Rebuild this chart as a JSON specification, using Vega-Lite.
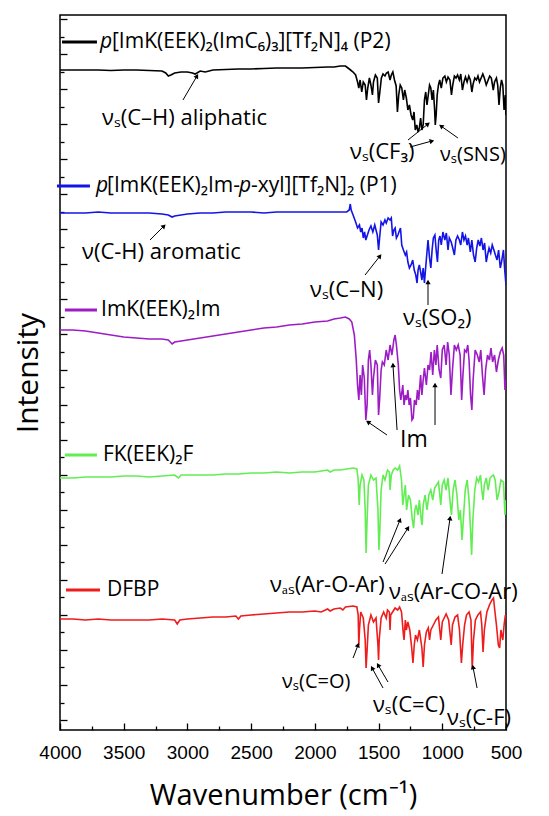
{
"$schema": "https://vega.github.io/schema/vega-lite/v6.json",
"width": 446, "height": 715,
"autosize": "none",
"padding": {"left": 60, "top": 15, "right": 43, "bottom": 86},
"background": "white",
"config": {"view": {"stroke": "black", "strokeWidth": 1.5}, "font": "Open Sans"},
"datasets": {
"spec": [
{"s":"P2","x":4000,"y":660},{"s":"P2","x":3900,"y":660},{"s":"P2","x":3800,"y":660},{"s":"P2","x":3700,"y":660},{"s":"P2","x":3600,"y":659.5},{"s":"P2","x":3500,"y":660},{"s":"P2","x":3400,"y":660},{"s":"P2","x":3300,"y":659.5},{"s":"P2","x":3200,"y":659},{"s":"P2","x":3170,"y":657},{"s":"P2","x":3150,"y":654},{"s":"P2","x":3130,"y":655},{"s":"P2","x":3100,"y":657},{"s":"P2","x":3050,"y":658},{"s":"P2","x":3000,"y":658},{"s":"P2","x":2960,"y":657},{"s":"P2","x":2940,"y":656},{"s":"P2","x":2925,"y":657},{"s":"P2","x":2900,"y":659},{"s":"P2","x":2860,"y":658},{"s":"P2","x":2800,"y":660},{"s":"P2","x":2700,"y":660.5},{"s":"P2","x":2600,"y":661},{"s":"P2","x":2500,"y":661},{"s":"P2","x":2400,"y":661.5},{"s":"P2","x":2300,"y":662},{"s":"P2","x":2200,"y":662},{"s":"P2","x":2100,"y":662},{"s":"P2","x":2000,"y":662.5},{"s":"P2","x":1900,"y":663},{"s":"P2","x":1850,"y":663},{"s":"P2","x":1800,"y":664},{"s":"P2","x":1760,"y":664},{"s":"P2","x":1740,"y":662},{"s":"P2","x":1720,"y":660},
{"s":"P2","x":1700,"y":658},{"s":"P2","x":1680,"y":655},{"s":"P2","x":1665,"y":648},{"s":"P2","x":1655,"y":642},{"s":"P2","x":1645,"y":650},{"s":"P2","x":1632,"y":638},{"s":"P2","x":1620,"y":648},{"s":"P2","x":1605,"y":645},{"s":"P2","x":1595,"y":630},{"s":"P2","x":1585,"y":642},{"s":"P2","x":1572,"y":652},{"s":"P2","x":1560,"y":645},{"s":"P2","x":1548,"y":635},{"s":"P2","x":1540,"y":648},{"s":"P2","x":1525,"y":655},{"s":"P2","x":1510,"y":652},{"s":"P2","x":1500,"y":627},{"s":"P2","x":1490,"y":638},{"s":"P2","x":1478,"y":652},{"s":"P2","x":1465,"y":656},{"s":"P2","x":1450,"y":654},{"s":"P2","x":1438,"y":657},{"s":"P2","x":1425,"y":658},{"s":"P2","x":1410,"y":650},{"s":"P2","x":1400,"y":655},{"s":"P2","x":1388,"y":658},{"s":"P2","x":1375,"y":650},{"s":"P2","x":1362,"y":644},{"s":"P2","x":1352,"y":618},{"s":"P2","x":1342,"y":635},{"s":"P2","x":1330,"y":645},{"s":"P2","x":1318,"y":642},{"s":"P2","x":1305,"y":630},{"s":"P2","x":1295,"y":640},{"s":"P2","x":1282,"y":632},{"s":"P2","x":1270,"y":620},{"s":"P2","x":1258,"y":625},{"s":"P2","x":1245,"y":615},{"s":"P2","x":1232,"y":610},{"s":"P2","x":1222,"y":618},{"s":"P2","x":1212,"y":600},{"s":"P2","x":1200,"y":605},{"s":"P2","x":1190,"y":598},{"s":"P2","x":1180,"y":602},{"s":"P2","x":1170,"y":612},{"s":"P2","x":1160,"y":600},{"s":"P2","x":1150,"y":605},{"s":"P2","x":1140,"y":630},{"s":"P2","x":1130,"y":638},{"s":"P2","x":1120,"y":625},{"s":"P2","x":1110,"y":635},{"s":"P2","x":1100,"y":645},{"s":"P2","x":1090,"y":642},{"s":"P2","x":1080,"y":630},{"s":"P2","x":1070,"y":640},{"s":"P2","x":1060,"y":620},{"s":"P2","x":1055,"y":605},{"s":"P2","x":1048,"y":615},{"s":"P2","x":1040,"y":635},{"s":"P2","x":1030,"y":645},{"s":"P2","x":1020,"y":650},{"s":"P2","x":1008,"y":642},{"s":"P2","x":995,"y":652},{"s":"P2","x":980,"y":654},{"s":"P2","x":968,"y":648},{"s":"P2","x":955,"y":653},{"s":"P2","x":940,"y":650},{"s":"P2","x":928,"y":635},{"s":"P2","x":918,"y":645},{"s":"P2","x":905,"y":654},{"s":"P2","x":892,"y":652},{"s":"P2","x":880,"y":655},{"s":"P2","x":866,"y":650},{"s":"P2","x":855,"y":656},{"s":"P2","x":842,"y":640},{"s":"P2","x":830,"y":648},{"s":"P2","x":818,"y":653},{"s":"P2","x":805,"y":648},{"s":"P2","x":792,"y":654},{"s":"P2","x":780,"y":650},{"s":"P2","x":768,"y":638},{"s":"P2","x":758,"y":646},{"s":"P2","x":745,"y":652},{"s":"P2","x":732,"y":650},{"s":"P2","x":720,"y":654},{"s":"P2","x":708,"y":648},{"s":"P2","x":695,"y":652},{"s":"P2","x":682,"y":656},{"s":"P2","x":670,"y":652},{"s":"P2","x":655,"y":645},{"s":"P2","x":640,"y":650},{"s":"P2","x":628,"y":654},{"s":"P2","x":615,"y":652},{"s":"P2","x":600,"y":640},{"s":"P2","x":590,"y":648},{"s":"P2","x":575,"y":652},{"s":"P2","x":565,"y":645},{"s":"P2","x":555,"y":625},{"s":"P2","x":545,"y":642},{"s":"P2","x":535,"y":650},{"s":"P2","x":525,"y":645},{"s":"P2","x":515,"y":620},{"s":"P2","x":505,"y":635},{"s":"P2","x":500,"y":615},

{"s":"P1","x":4000,"y":517},{"s":"P1","x":3900,"y":517},{"s":"P1","x":3800,"y":517},{"s":"P1","x":3700,"y":518},{"s":"P1","x":3600,"y":517},{"s":"P1","x":3500,"y":517},{"s":"P1","x":3400,"y":517},{"s":"P1","x":3300,"y":517},{"s":"P1","x":3200,"y":516},{"s":"P1","x":3150,"y":515},{"s":"P1","x":3120,"y":513},{"s":"P1","x":3100,"y":514},{"s":"P1","x":3050,"y":515},{"s":"P1","x":3000,"y":516},{"s":"P1","x":2900,"y":517},{"s":"P1","x":2800,"y":517},{"s":"P1","x":2700,"y":518},{"s":"P1","x":2600,"y":518},{"s":"P1","x":2500,"y":518},{"s":"P1","x":2400,"y":517},{"s":"P1","x":2300,"y":518},{"s":"P1","x":2200,"y":518},{"s":"P1","x":2100,"y":518},{"s":"P1","x":2000,"y":518},{"s":"P1","x":1900,"y":518},{"s":"P1","x":1800,"y":518},{"s":"P1","x":1750,"y":518},{"s":"P1","x":1730,"y":520},{"s":"P1","x":1722,"y":526},{"s":"P1","x":1715,"y":520},{"s":"P1","x":1700,"y":515},{"s":"P1","x":1680,"y":508},{"s":"P1","x":1665,"y":502},{"s":"P1","x":1650,"y":505},{"s":"P1","x":1640,"y":498},{"s":"P1","x":1630,"y":502},{"s":"P1","x":1620,"y":492},{"s":"P1","x":1610,"y":498},{"s":"P1","x":1600,"y":490},{"s":"P1","x":1590,"y":494},{"s":"P1","x":1575,"y":500},{"s":"P1","x":1560,"y":504},{"s":"P1","x":1545,"y":498},{"s":"P1","x":1530,"y":505},{"s":"P1","x":1520,"y":500},{"s":"P1","x":1510,"y":495},{"s":"P1","x":1500,"y":480},{"s":"P1","x":1492,"y":492},{"s":"P1","x":1480,"y":508},{"s":"P1","x":1465,"y":505},{"s":"P1","x":1450,"y":510},{"s":"P1","x":1440,"y":507},{"s":"P1","x":1425,"y":512},{"s":"P1","x":1410,"y":510},{"s":"P1","x":1400,"y":512},{"s":"P1","x":1390,"y":494},{"s":"P1","x":1380,"y":500},{"s":"P1","x":1370,"y":502},{"s":"P1","x":1360,"y":492},{"s":"P1","x":1348,"y":495},{"s":"P1","x":1340,"y":498},{"s":"P1","x":1328,"y":502},{"s":"P1","x":1318,"y":485},{"s":"P1","x":1305,"y":480},{"s":"P1","x":1290,"y":475},{"s":"P1","x":1280,"y":478},{"s":"P1","x":1270,"y":468},{"s":"P1","x":1258,"y":462},{"s":"P1","x":1245,"y":465},{"s":"P1","x":1232,"y":470},{"s":"P1","x":1220,"y":460},{"s":"P1","x":1208,"y":455},{"s":"P1","x":1198,"y":447},{"s":"P1","x":1190,"y":460},{"s":"P1","x":1180,"y":465},{"s":"P1","x":1170,"y":458},{"s":"P1","x":1160,"y":450},{"s":"P1","x":1150,"y":462},{"s":"P1","x":1140,"y":447},{"s":"P1","x":1132,"y":460},{"s":"P1","x":1122,"y":475},{"s":"P1","x":1112,"y":490},{"s":"P1","x":1100,"y":472},{"s":"P1","x":1090,"y":462},{"s":"P1","x":1080,"y":480},{"s":"P1","x":1070,"y":492},{"s":"P1","x":1058,"y":495},{"s":"P1","x":1048,"y":480},{"s":"P1","x":1038,"y":468},{"s":"P1","x":1028,"y":490},{"s":"P1","x":1018,"y":494},{"s":"P1","x":1008,"y":485},{"s":"P1","x":995,"y":498},{"s":"P1","x":980,"y":490},{"s":"P1","x":968,"y":497},{"s":"P1","x":955,"y":480},{"s":"P1","x":945,"y":492},{"s":"P1","x":930,"y":488},{"s":"P1","x":918,"y":482},{"s":"P1","x":905,"y":475},{"s":"P1","x":893,"y":490},{"s":"P1","x":880,"y":494},{"s":"P1","x":866,"y":490},{"s":"P1","x":855,"y":485},{"s":"P1","x":842,"y":498},{"s":"P1","x":830,"y":490},{"s":"P1","x":818,"y":494},{"s":"P1","x":805,"y":485},{"s":"P1","x":795,"y":492},{"s":"P1","x":780,"y":478},{"s":"P1","x":768,"y":490},{"s":"P1","x":755,"y":475},{"s":"P1","x":742,"y":468},{"s":"P1","x":730,"y":482},{"s":"P1","x":718,"y":490},{"s":"P1","x":705,"y":484},{"s":"P1","x":693,"y":492},{"s":"P1","x":680,"y":480},{"s":"P1","x":668,"y":487},{"s":"P1","x":655,"y":468},{"s":"P1","x":645,"y":475},{"s":"P1","x":633,"y":482},{"s":"P1","x":620,"y":477},{"s":"P1","x":608,"y":485},{"s":"P1","x":595,"y":480},{"s":"P1","x":583,"y":475},{"s":"P1","x":570,"y":470},{"s":"P1","x":558,"y":480},{"s":"P1","x":545,"y":462},{"s":"P1","x":535,"y":468},{"s":"P1","x":520,"y":480},{"s":"P1","x":510,"y":460},{"s":"P1","x":500,"y":445},

{"s":"Im","x":4000,"y":400},{"s":"Im","x":3900,"y":400},{"s":"Im","x":3800,"y":399},{"s":"Im","x":3700,"y":397},{"s":"Im","x":3600,"y":395},{"s":"Im","x":3500,"y":393},{"s":"Im","x":3400,"y":392},{"s":"Im","x":3300,"y":391},{"s":"Im","x":3200,"y":391},{"s":"Im","x":3150,"y":390},{"s":"Im","x":3120,"y":386},{"s":"Im","x":3100,"y":388},{"s":"Im","x":3050,"y":389},{"s":"Im","x":3000,"y":390},{"s":"Im","x":2900,"y":392},{"s":"Im","x":2800,"y":394},{"s":"Im","x":2700,"y":396},{"s":"Im","x":2600,"y":398},{"s":"Im","x":2500,"y":400},{"s":"Im","x":2400,"y":402},{"s":"Im","x":2300,"y":403},{"s":"Im","x":2200,"y":405},{"s":"Im","x":2100,"y":406},{"s":"Im","x":2000,"y":408},{"s":"Im","x":1900,"y":409},{"s":"Im","x":1850,"y":411},{"s":"Im","x":1800,"y":412},{"s":"Im","x":1760,"y":413},{"s":"Im","x":1730,"y":411},{"s":"Im","x":1710,"y":408},{"s":"Im","x":1690,"y":395},{"s":"Im","x":1675,"y":370},
{"s":"Im","x":1665,"y":345},{"s":"Im","x":1655,"y":330},{"s":"Im","x":1645,"y":355},{"s":"Im","x":1635,"y":335},{"s":"Im","x":1625,"y":365},{"s":"Im","x":1612,"y":352},{"s":"Im","x":1600,"y":310},{"s":"Im","x":1590,"y":325},{"s":"Im","x":1580,"y":370},{"s":"Im","x":1570,"y":380},{"s":"Im","x":1560,"y":365},{"s":"Im","x":1548,"y":335},{"s":"Im","x":1540,"y":352},{"s":"Im","x":1525,"y":370},{"s":"Im","x":1510,"y":365},{"s":"Im","x":1500,"y":315},{"s":"Im","x":1492,"y":330},{"s":"Im","x":1480,"y":360},{"s":"Im","x":1470,"y":368},{"s":"Im","x":1455,"y":365},{"s":"Im","x":1440,"y":380},{"s":"Im","x":1425,"y":370},{"s":"Im","x":1410,"y":385},{"s":"Im","x":1395,"y":375},{"s":"Im","x":1380,"y":390},{"s":"Im","x":1370,"y":395},{"s":"Im","x":1360,"y":385},{"s":"Im","x":1345,"y":365},{"s":"Im","x":1335,"y":340},{"s":"Im","x":1325,"y":330},{"s":"Im","x":1310,"y":345},{"s":"Im","x":1300,"y":325},{"s":"Im","x":1290,"y":335},{"s":"Im","x":1280,"y":330},{"s":"Im","x":1270,"y":340},{"s":"Im","x":1260,"y":325},{"s":"Im","x":1250,"y":332},{"s":"Im","x":1238,"y":310},{"s":"Im","x":1228,"y":312},{"s":"Im","x":1218,"y":330},{"s":"Im","x":1205,"y":325},{"s":"Im","x":1195,"y":340},{"s":"Im","x":1185,"y":330},{"s":"Im","x":1170,"y":355},{"s":"Im","x":1160,"y":335},{"s":"Im","x":1150,"y":350},{"s":"Im","x":1140,"y":362},{"s":"Im","x":1125,"y":345},{"s":"Im","x":1112,"y":365},{"s":"Im","x":1100,"y":360},{"s":"Im","x":1088,"y":378},{"s":"Im","x":1075,"y":355},{"s":"Im","x":1062,"y":380},{"s":"Im","x":1050,"y":365},{"s":"Im","x":1040,"y":385},{"s":"Im","x":1025,"y":360},{"s":"Im","x":1012,"y":352},{"s":"Im","x":1000,"y":380},{"s":"Im","x":985,"y":385},{"s":"Im","x":970,"y":365},{"s":"Im","x":958,"y":388},{"s":"Im","x":945,"y":375},{"s":"Im","x":932,"y":335},{"s":"Im","x":920,"y":360},{"s":"Im","x":905,"y":385},{"s":"Im","x":890,"y":380},{"s":"Im","x":875,"y":385},{"s":"Im","x":860,"y":375},{"s":"Im","x":848,"y":330},{"s":"Im","x":838,"y":355},{"s":"Im","x":825,"y":380},{"s":"Im","x":812,"y":378},{"s":"Im","x":800,"y":385},{"s":"Im","x":790,"y":370},{"s":"Im","x":778,"y":335},{"s":"Im","x":768,"y":320},{"s":"Im","x":758,"y":350},{"s":"Im","x":742,"y":380},{"s":"Im","x":725,"y":375},{"s":"Im","x":710,"y":368},{"s":"Im","x":698,"y":380},{"s":"Im","x":685,"y":355},{"s":"Im","x":672,"y":335},{"s":"Im","x":660,"y":360},{"s":"Im","x":645,"y":375},{"s":"Im","x":630,"y":370},{"s":"Im","x":618,"y":382},{"s":"Im","x":605,"y":368},{"s":"Im","x":590,"y":375},{"s":"Im","x":575,"y":358},{"s":"Im","x":560,"y":370},{"s":"Im","x":545,"y":378},{"s":"Im","x":530,"y":382},{"s":"Im","x":518,"y":375},{"s":"Im","x":508,"y":340},{"s":"Im","x":500,"y":350},

{"s":"F","x":4000,"y":252},{"s":"F","x":3900,"y":252},{"s":"F","x":3800,"y":253},{"s":"F","x":3700,"y":253},{"s":"F","x":3600,"y":253},{"s":"F","x":3500,"y":254},{"s":"F","x":3400,"y":254},{"s":"F","x":3300,"y":253},{"s":"F","x":3200,"y":254},{"s":"F","x":3100,"y":255},{"s":"F","x":3070,"y":252},{"s":"F","x":3050,"y":255},{"s":"F","x":2900,"y":255},{"s":"F","x":2800,"y":255},{"s":"F","x":2700,"y":256},{"s":"F","x":2600,"y":256},{"s":"F","x":2500,"y":257},{"s":"F","x":2400,"y":257},{"s":"F","x":2300,"y":258},{"s":"F","x":2200,"y":257},{"s":"F","x":2100,"y":258},{"s":"F","x":2000,"y":258},{"s":"F","x":1950,"y":259},{"s":"F","x":1900,"y":260},{"s":"F","x":1880,"y":258},{"s":"F","x":1850,"y":260},{"s":"F","x":1800,"y":260},{"s":"F","x":1750,"y":261},{"s":"F","x":1700,"y":262},{"s":"F","x":1670,"y":261},
{"s":"F","x":1660,"y":250},{"s":"F","x":1652,"y":225},{"s":"F","x":1645,"y":245},{"s":"F","x":1630,"y":255},{"s":"F","x":1615,"y":250},{"s":"F","x":1605,"y":220},{"s":"F","x":1598,"y":177},{"s":"F","x":1590,"y":210},{"s":"F","x":1580,"y":245},{"s":"F","x":1560,"y":255},{"s":"F","x":1540,"y":250},{"s":"F","x":1520,"y":252},{"s":"F","x":1505,"y":220},{"s":"F","x":1497,"y":180},{"s":"F","x":1490,"y":200},{"s":"F","x":1480,"y":240},{"s":"F","x":1465,"y":255},{"s":"F","x":1450,"y":250},{"s":"F","x":1430,"y":260},{"s":"F","x":1415,"y":258},{"s":"F","x":1410,"y":240},{"s":"F","x":1400,"y":255},{"s":"F","x":1385,"y":260},{"s":"F","x":1370,"y":262},{"s":"F","x":1350,"y":260},{"s":"F","x":1335,"y":264},{"s":"F","x":1320,"y":250},{"s":"F","x":1310,"y":225},{"s":"F","x":1300,"y":235},{"s":"F","x":1290,"y":245},{"s":"F","x":1280,"y":220},{"s":"F","x":1265,"y":235},{"s":"F","x":1250,"y":230},{"s":"F","x":1235,"y":210},{"s":"F","x":1225,"y":202},{"s":"F","x":1215,"y":220},{"s":"F","x":1205,"y":225},{"s":"F","x":1190,"y":215},{"s":"F","x":1180,"y":230},{"s":"F","x":1165,"y":210},{"s":"F","x":1158,"y":205},{"s":"F","x":1150,"y":225},{"s":"F","x":1135,"y":235},{"s":"F","x":1120,"y":220},{"s":"F","x":1105,"y":235},{"s":"F","x":1090,"y":240},{"s":"F","x":1075,"y":230},{"s":"F","x":1060,"y":242},{"s":"F","x":1045,"y":245},{"s":"F","x":1030,"y":248},{"s":"F","x":1012,"y":225},{"s":"F","x":1000,"y":245},{"s":"F","x":985,"y":250},{"s":"F","x":970,"y":240},{"s":"F","x":955,"y":252},{"s":"F","x":940,"y":230},{"s":"F","x":928,"y":215},{"s":"F","x":915,"y":240},{"s":"F","x":900,"y":250},{"s":"F","x":885,"y":235},{"s":"F","x":870,"y":210},{"s":"F","x":858,"y":220},{"s":"F","x":845,"y":190},{"s":"F","x":835,"y":210},{"s":"F","x":820,"y":240},{"s":"F","x":805,"y":250},{"s":"F","x":790,"y":230},{"s":"F","x":780,"y":205},{"s":"F","x":770,"y":175},{"s":"F","x":760,"y":210},{"s":"F","x":745,"y":240},{"s":"F","x":730,"y":252},{"s":"F","x":715,"y":248},{"s":"F","x":700,"y":255},{"s":"F","x":690,"y":240},{"s":"F","x":680,"y":230},{"s":"F","x":670,"y":245},{"s":"F","x":655,"y":252},{"s":"F","x":640,"y":240},{"s":"F","x":625,"y":252},{"s":"F","x":610,"y":254},{"s":"F","x":598,"y":255},{"s":"F","x":585,"y":250},{"s":"F","x":570,"y":230},{"s":"F","x":555,"y":238},{"s":"F","x":540,"y":250},{"s":"F","x":520,"y":248},{"s":"F","x":508,"y":215},{"s":"F","x":500,"y":230},

{"s":"D","x":4000,"y":111},{"s":"D","x":3900,"y":111},{"s":"D","x":3800,"y":110},{"s":"D","x":3700,"y":111},{"s":"D","x":3600,"y":110},{"s":"D","x":3500,"y":110},{"s":"D","x":3400,"y":110},{"s":"D","x":3300,"y":110},{"s":"D","x":3200,"y":111},{"s":"D","x":3100,"y":110},{"s":"D","x":3080,"y":106},{"s":"D","x":3060,"y":110},{"s":"D","x":3000,"y":111},{"s":"D","x":2900,"y":112},{"s":"D","x":2800,"y":113},{"s":"D","x":2700,"y":113},{"s":"D","x":2620,"y":114},{"s":"D","x":2600,"y":111},{"s":"D","x":2580,"y":114},{"s":"D","x":2500,"y":115},{"s":"D","x":2400,"y":116},{"s":"D","x":2300,"y":117},{"s":"D","x":2200,"y":118},{"s":"D","x":2100,"y":118},{"s":"D","x":2000,"y":119},{"s":"D","x":1950,"y":118},{"s":"D","x":1900,"y":121},{"s":"D","x":1880,"y":119},{"s":"D","x":1850,"y":121},{"s":"D","x":1800,"y":122},{"s":"D","x":1780,"y":120},{"s":"D","x":1760,"y":123},{"s":"D","x":1700,"y":124},{"s":"D","x":1670,"y":123},
{"s":"D","x":1660,"y":115},{"s":"D","x":1655,"y":85},{"s":"D","x":1650,"y":100},{"s":"D","x":1640,"y":118},{"s":"D","x":1620,"y":112},{"s":"D","x":1605,"y":90},{"s":"D","x":1598,"y":62},{"s":"D","x":1590,"y":80},{"s":"D","x":1580,"y":105},{"s":"D","x":1560,"y":115},{"s":"D","x":1540,"y":108},{"s":"D","x":1520,"y":112},{"s":"D","x":1505,"y":85},{"s":"D","x":1500,"y":70},{"s":"D","x":1495,"y":90},{"s":"D","x":1480,"y":112},{"s":"D","x":1460,"y":118},{"s":"D","x":1440,"y":112},{"s":"D","x":1430,"y":120},{"s":"D","x":1415,"y":118},{"s":"D","x":1410,"y":100},{"s":"D","x":1405,"y":115},{"s":"D","x":1390,"y":118},{"s":"D","x":1370,"y":122},{"s":"D","x":1350,"y":120},{"s":"D","x":1335,"y":123},{"s":"D","x":1320,"y":118},{"s":"D","x":1305,"y":95},{"s":"D","x":1300,"y":90},{"s":"D","x":1290,"y":110},{"s":"D","x":1282,"y":100},{"s":"D","x":1270,"y":108},{"s":"D","x":1255,"y":100},{"s":"D","x":1240,"y":82},{"s":"D","x":1230,"y":67},{"s":"D","x":1220,"y":85},{"s":"D","x":1210,"y":95},{"s":"D","x":1195,"y":90},{"s":"D","x":1180,"y":100},{"s":"D","x":1160,"y":82},{"s":"D","x":1150,"y":63},{"s":"D","x":1140,"y":85},{"s":"D","x":1125,"y":98},{"s":"D","x":1110,"y":102},{"s":"D","x":1100,"y":90},{"s":"D","x":1090,"y":100},{"s":"D","x":1070,"y":105},{"s":"D","x":1050,"y":110},{"s":"D","x":1030,"y":113},{"s":"D","x":1012,"y":90},{"s":"D","x":1000,"y":108},{"s":"D","x":985,"y":112},{"s":"D","x":970,"y":116},{"s":"D","x":950,"y":110},{"s":"D","x":930,"y":85},{"s":"D","x":920,"y":105},{"s":"D","x":900,"y":113},{"s":"D","x":880,"y":115},{"s":"D","x":865,"y":100},{"s":"D","x":850,"y":67},{"s":"D","x":840,"y":85},{"s":"D","x":825,"y":105},{"s":"D","x":810,"y":115},{"s":"D","x":790,"y":118},{"s":"D","x":775,"y":110},{"s":"D","x":765,"y":62},{"s":"D","x":755,"y":90},{"s":"D","x":740,"y":110},{"s":"D","x":720,"y":115},{"s":"D","x":700,"y":118},{"s":"D","x":690,"y":105},{"s":"D","x":680,"y":78},{"s":"D","x":670,"y":100},{"s":"D","x":650,"y":118},{"s":"D","x":630,"y":125},{"s":"D","x":610,"y":130},{"s":"D","x":598,"y":132},{"s":"D","x":590,"y":122},{"s":"D","x":575,"y":105},{"s":"D","x":560,"y":85},{"s":"D","x":550,"y":82},{"s":"D","x":540,"y":100},{"s":"D","x":525,"y":90},{"s":"D","x":515,"y":105},{"s":"D","x":505,"y":115},{"s":"D","x":500,"y":112}
],
"leg": [
{"s":"P2","x1":3984,"x2":3710,"y":688},
{"s":"P1","x1":4024,"x2":3765,"y":544},
{"s":"Im","x1":3961,"x2":3710,"y":420},
{"s":"F","x1":3961,"x2":3710,"y":275},
{"s":"D","x1":3953,"x2":3686,"y":140}
],
"ltxt": [
{"t":"[ImK(EEK)₂(ImC₆)₃][Tf₂N]₄ (P2)","x":3592,"y":688},
{"t":"[ImK(EEK)₂Im-","x":3631,"y":544},
{"t":"-xyl][Tf₂N]₂ (P1)","x":2501,"y":544},
{"t":"ImK(EEK)₂Im","x":3678,"y":420},
{"t":"FK(EEK)₂F","x":3663,"y":275},
{"t":"DFBP","x":3631,"y":140}
],
"ltxti": [
{"t":"p","x":3686,"y":688},
{"t":"p","x":3717,"y":544},
{"t":"p","x":2595,"y":544}
],
"annA": [
{"t":"νₛ(SNS)","x":1018,"y":575},
{"t":"νₛ(C=O)","x":2258,"y":48}
],
"annB": [
{"t":"νₛ(C–H) aliphatic","x":3670,"y":612},
{"t":"νₛ(CF₃)","x":1724,"y":578},
{"t":"ν(C-H) aromatic","x":3827,"y":478},
{"t":"νₛ(C–N)","x":2038,"y":440},
{"t":"νₛ(SO₂)","x":1308,"y":412},
{"t":"νₐₛ(Ar-O-Ar)","x":2352,"y":145},
{"t":"νₐₛ(Ar-CO-Ar)","x":1418,"y":138},
{"t":"νₛ(C=C)","x":1544,"y":25},
{"t":"νₛ(C-F)","x":963,"y":12}
],
"im": [{"t":"Im","x":1332,"y":290}],
"arr": [
{"x1":3035,"y1":630,"x2":2925,"y2":654},
{"x1":1269,"y1":590,"x2":1112,"y2":606},
{"x1":1253,"y1":583,"x2":1081,"y2":589},
{"x1":877,"y1":592,"x2":1010,"y2":604},
{"x1":3294,"y1":490,"x2":3184,"y2":504},
{"x1":1606,"y1":455,"x2":1489,"y2":474},
{"x1":1112,"y1":425,"x2":1112,"y2":448},
{"x1":1434,"y1":295,"x2":1583,"y2":308},
{"x1":1355,"y1":300,"x2":1387,"y2":365},
{"x1":1057,"y1":305,"x2":1057,"y2":345},
{"x1":1465,"y1":168,"x2":1332,"y2":210},
{"x1":1449,"y1":166,"x2":1269,"y2":202},
{"x1":1002,"y1":156,"x2":939,"y2":212},
{"x1":1700,"y1":72,"x2":1661,"y2":85},
{"x1":1465,"y1":42,"x2":1551,"y2":62},
{"x1":1426,"y1":48,"x2":1504,"y2":65},
{"x1":727,"y1":42,"x2":759,"y2":63}
]
},
"resolve": {"axis": {"x": "independent", "y": "independent"}},
"layer": [
{
"data": {"name": "spec"},
"mark": {"type": "line", "strokeWidth": 1.6, "clip": true},
"encoding": {
"x": {"field": "x", "type": "quantitative", "scale": {"domain": [500, 4000], "reverse": true, "nice": false, "zero": false},
 "axis": {"values": [4000,3500,3000,2500,2000,1500,1000,500], "format": "d", "tickSize": -7, "tickWidth": 1.3, "tickColor": "black", "domain": false, "grid": false,
  "labelFontSize": 19, "labelFont": "Liberation Sans", "labelColor": "black", "labelPadding": 20, "labelFlush": false, "labelOverlap": false,
  "title": "Wavenumber (cm⁻¹)", "titleFont": "Open Sans", "titleFontSize": 29, "titleFontWeight": "normal", "titleColor": "black", "titlePadding": 19}},
"y": {"field": "y", "type": "quantitative", "scale": {"domain": [0, 715], "nice": false, "zero": false},
 "axis": {"values": [10,45.1,80.1,115.2,150.2,185.3,220.3,255.4,290.4,325.5,360.5,395.6,430.6,465.7,500.7,535.8,570.8,605.9,640.9,676,711], "tickSize": -7, "tickWidth": 1.3, "tickColor": "black", "labels": false, "domain": false, "grid": false,
  "title": "Intensity", "titleFont": "Open Sans", "titleFontSize": 30, "titleFontWeight": "normal", "titleColor": "black", "titlePadding": 16}},
"color": {"field": "s", "type": "nominal", "scale": {"domain": ["P2","P1","Im","F","D"], "range": ["#000000","#1414e6","#9d1dc4","#62ee52","#ee1c1c"]}, "legend": null}
}
},
{
"data": {"name": "leg"},
"mark": {"type": "rule", "strokeWidth": 3},
"encoding": {
"x": {"field": "x1", "type": "quantitative", "axis": {"values": [3750,3250,2750,2250,1750,1250,750], "orient": "bottom", "tickSize": -4, "tickWidth": 1.3, "tickColor": "black", "labels": false, "domain": false, "grid": false, "title": null}},
"x2": {"field": "x2"},
"y": {"field": "y", "type": "quantitative", "axis": {"values": [27.5,62.6,97.6,132.7,167.7,202.8,237.8,272.9,307.9,343,378,413.1,448.1,483.2,518.2,553.3,588.3,623.4,658.4,693.5], "orient": "left", "tickSize": -4, "tickWidth": 1.3, "tickColor": "black", "labels": false, "domain": false, "grid": false, "title": null}},
"color": {"field": "s", "type": "nominal", "legend": null}
}
},
{
"data": {"name": "ltxt"},
"mark": {"type": "text", "align": "left", "baseline": "middle", "fontSize": 21, "font": "Open Sans", "color": "black"},
"encoding": {
"x": {"field": "x", "type": "quantitative", "axis": null},
"y": {"field": "y", "type": "quantitative", "axis": null},
"text": {"field": "t"}
}
},
{
"data": {"name": "ltxti"},
"mark": {"type": "text", "align": "left", "baseline": "middle", "fontSize": 21, "font": "Open Sans", "fontStyle": "italic", "color": "black"},
"encoding": {
"x": {"field": "x", "type": "quantitative", "axis": null},
"y": {"field": "y", "type": "quantitative", "axis": null},
"text": {"field": "t"}
}
},
{
"data": {"name": "annA"},
"mark": {"type": "text", "align": "left", "baseline": "middle", "fontSize": 20, "font": "Open Sans", "color": "black"},
"encoding": {
"x": {"field": "x", "type": "quantitative", "axis": null},
"y": {"field": "y", "type": "quantitative", "axis": null},
"text": {"field": "t"}
}
},
{
"data": {"name": "annB"},
"mark": {"type": "text", "align": "left", "baseline": "middle", "fontSize": 22, "font": "Open Sans", "color": "black"},
"encoding": {
"x": {"field": "x", "type": "quantitative", "axis": null},
"y": {"field": "y", "type": "quantitative", "axis": null},
"text": {"field": "t"}
}
},
{
"data": {"name": "im"},
"mark": {"type": "text", "align": "left", "baseline": "middle", "fontSize": 23, "font": "Open Sans", "color": "black"},
"encoding": {
"x": {"field": "x", "type": "quantitative", "axis": null},
"y": {"field": "y", "type": "quantitative", "axis": null},
"text": {"field": "t"}
}
},
{
"data": {"name": "arr"},
"mark": {"type": "rule", "strokeWidth": 1, "color": "black"},
"encoding": {
"x": {"field": "x1", "type": "quantitative", "axis": null},
"y": {"field": "y1", "type": "quantitative", "axis": null},
"x2": {"field": "x2"},
"y2": {"field": "y2"}
}
},
{
"data": {"name": "arr"},
"transform": [{"calculate": "atan2(-(datum.x2 - datum.x1) * 446 / 3500, datum.y2 - datum.y1) * 180 / PI", "as": "a"}],
"mark": {"type": "point", "shape": "triangle-up", "filled": true, "size": 28, "color": "black", "opacity": 1},
"encoding": {
"x": {"field": "x2", "type": "quantitative", "axis": null},
"y": {"field": "y2", "type": "quantitative", "axis": null},
"angle": {"field": "a", "type": "quantitative", "scale": null}
}
}
]
}
